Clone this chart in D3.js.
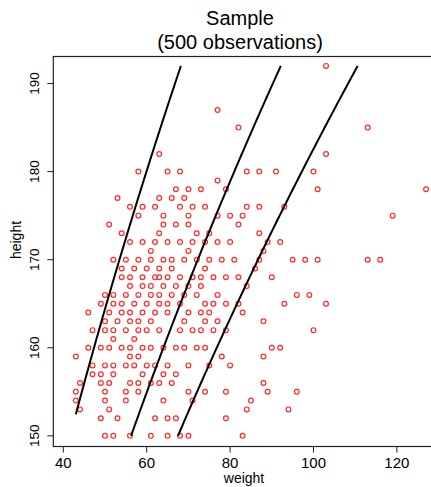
<!DOCTYPE html>
<html>
<head>
<meta charset="utf-8">
<script src="https://cdn.jsdelivr.net/npm/d3@7"></script>
<style>
  html, body { margin: 0; padding: 0; background: #fff; }
  svg { display: block; font-family: "Liberation Sans", Arial, Helvetica, sans-serif; }
</style>
</head>
<body>
<svg id="chart" width="431" height="487"></svg>
<script>
// heights (cm) that carry observations, top to bottom
const heightRows = [192, 187, 185, 182, 180, 179, 178, 177, 176, 175, 174, 173, 172, 171,
  170, 169, 168, 167, 166, 165, 164, 163, 162, 161, 160, 159, 158, 157, 156, 155, 154, 153, 152, 150];

// weights (kg) observed at each of those heights
const weightsByRow = [
  [103],
  [77],
  [82, 113],
  [63, 103],
  [58, 65, 68, 84, 87, 91, 100],
  [77],
  [67, 70, 73, 79, 101, 127],
  [53, 63, 66, 69],
  [56, 59, 62, 68, 71, 74, 84, 87, 93],
  [58, 64, 70, 77, 80, 83, 119],
  [51, 64, 67, 70, 82],
  [54, 63, 72, 75, 87],
  [56, 59, 62, 65, 68, 71, 74, 77, 80, 89, 92],
  [61, 70, 88],
  [52, 55, 58, 61, 64, 66, 69, 72, 75, 78, 81, 87, 95, 98, 101, 113, 116],
  [54, 57, 60, 63, 66, 74, 86],
  [54, 56, 59, 62, 63, 65, 68, 71, 73, 76, 79, 82, 90],
  [56, 59, 61, 64, 67, 70, 73, 84],
  [50, 52, 55, 58, 61, 63, 66, 69, 72, 77, 96, 99],
  [49, 52, 54, 57, 60, 63, 65, 68, 74, 76, 79, 82, 93, 103],
  [46, 51, 54, 56, 59, 62, 65, 70, 73, 75, 83],
  [50, 53, 56, 58, 61, 69, 74, 77, 88],
  [47, 50, 52, 55, 58, 60, 63, 68, 71, 73, 76, 79, 100],
  [52, 57],
  [46, 49, 51, 54, 56, 59, 61, 64, 67, 69, 72, 74, 90, 92],
  [43, 56, 58, 78, 88],
  [47, 50, 52, 55, 57, 60, 62, 65, 70, 75, 80],
  [47, 49, 52, 59, 64, 67],
  [44, 49, 51, 56, 58, 61, 63, 66, 88],
  [43, 50, 55, 58, 70, 74, 79, 89, 96],
  [43, 50, 55, 64, 71, 85],
  [44, 51, 84, 94],
  [49, 53, 62, 65, 67, 79],
  [50, 52, 56, 61, 65, 68, 70, 83]
];

// BMI reference curves (underweight / overweight / obese cut-offs)
const bmiLevels = [18.5, 25, 30];

const xTicks = [40, 60, 80, 100, 120];
const yTicks = [150, 160, 170, 180, 190];

const titleLines = ["Sample", "(500 observations)"];

const points = [];
heightRows.forEach((h, i) => weightsByRow[i].forEach(w => points.push({ weight: w, height: h })));

const svg = d3.select("#chart");

const plot = { left: 53.3, right: 434, top: 56.5, bottom: 446.5 };

const x = d3.scaleLinear().domain([37.6, 128.9]).range([plot.left, plot.right]);
const y = d3.scaleLinear().domain([148.79, 193.07]).range([plot.bottom, plot.top]);

// title
svg.append("g")
  .selectAll("text")
  .data(titleLines)
  .enter().append("text")
    .attr("x", 240)
    .attr("y", (d, i) => 25 + i * 24)
    .attr("text-anchor", "middle")
    .style("font-size", "20px")
    .text(d => d);

// observations
svg.append("g")
  .selectAll("circle")
  .data(points)
  .enter().append("circle")
    .attr("cx", d => x(d.weight))
    .attr("cy", d => y(d.height))
    .attr("r", 2.4)
    .attr("fill", "none")
    .attr("stroke", "#ff2a2a")
    .attr("stroke-width", 1.2);

// curves of constant BMI, starting no lower than the lightest subject
const minWeight = d3.min(points, d => d.weight);
const maxHeight = d3.max(points, d => d.height);
const minHeight = d3.min(points, d => d.height);

const line = d3.line()
  .x(d => x(d.weight))
  .y(d => y(d.height));

bmiLevels.forEach(bmi => {
  const h0 = Math.max(minHeight, 100 * Math.sqrt(minWeight / bmi));
  const hs = d3.range(h0, maxHeight, 0.5).concat([maxHeight]);
  const curve = hs.map(h => ({ height: h, weight: bmi * (h / 100) * (h / 100) }));
  svg.append("path")
    .datum(curve)
    .attr("d", line)
    .attr("fill", "none")
    .attr("stroke", "#000")
    .attr("stroke-width", 2);
});

// frame
svg.append("rect")
  .attr("x", plot.left)
  .attr("y", plot.top)
  .attr("width", plot.right - plot.left)
  .attr("height", plot.bottom - plot.top)
  .attr("fill", "none")
  .attr("stroke", "#222")
  .attr("stroke-width", 1.2);

// x axis
const xAxis = svg.append("g");
xAxis.selectAll("line")
  .data(xTicks)
  .enter().append("line")
    .attr("x1", d => x(d)).attr("x2", d => x(d))
    .attr("y1", plot.bottom).attr("y2", plot.bottom + 6)
    .attr("stroke", "#222");
xAxis.selectAll("text")
  .data(xTicks)
  .enter().append("text")
    .attr("x", d => x(d))
    .attr("y", 468)
    .attr("text-anchor", "middle")
    .style("font-size", "15px")
    .text(d => d);

// y axis
const yAxis = svg.append("g");
yAxis.selectAll("line")
  .data(yTicks)
  .enter().append("line")
    .attr("x1", plot.left - 6).attr("x2", plot.left)
    .attr("y1", d => y(d)).attr("y2", d => y(d))
    .attr("stroke", "#222");
yAxis.selectAll("text")
  .data(yTicks)
  .enter().append("text")
    .attr("transform", d => `translate(38.5,${y(d)}) rotate(-90)`)
    .attr("text-anchor", "middle")
    .style("font-size", "13.5px")
    .text(d => d);

// axis titles
svg.append("text")
  .attr("x", 244)
  .attr("y", 483)
  .attr("text-anchor", "middle")
  .style("font-size", "14px")
  .text("weight");

svg.append("text")
  .attr("transform", "translate(20.5,240) rotate(-90)")
  .attr("text-anchor", "middle")
  .style("font-size", "14px")
  .text("height");
</script>
</body>
</html>
